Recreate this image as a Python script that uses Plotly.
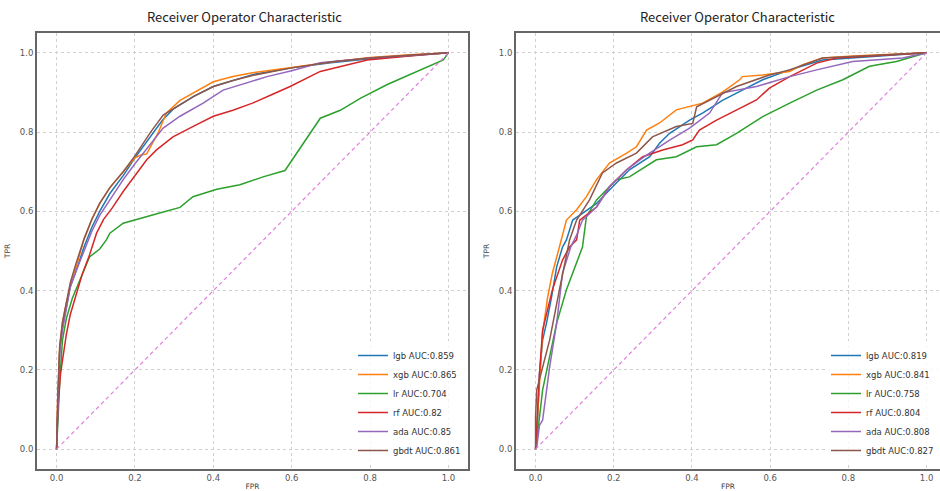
import plotly.graph_objects as go

# ---------------- data: left panel ----------------
L_lgb_fpr = [0, 0.003, 0.008, 0.015, 0.025, 0.035, 0.05, 0.07, 0.09, 0.11, 0.136, 0.17, 0.2, 0.24, 0.27, 0.3, 0.35, 0.4, 0.45, 0.5, 0.6, 0.7, 0.8, 0.9, 1.0]
L_lgb_tpr = [0, 0.12, 0.25, 0.31, 0.36, 0.41, 0.45, 0.51, 0.56, 0.6, 0.645, 0.69, 0.735, 0.79, 0.83, 0.86, 0.89, 0.915, 0.93, 0.945, 0.962, 0.975, 0.985, 0.993, 1.0]

L_xgb_fpr = [0, 0.003, 0.008, 0.015, 0.025, 0.035, 0.05, 0.07, 0.09, 0.11, 0.136, 0.17, 0.2, 0.215, 0.23, 0.26, 0.28, 0.315, 0.35, 0.4, 0.45, 0.5, 0.6, 0.7, 0.8, 0.9, 1.0]
L_xgb_tpr = [0, 0.14, 0.26, 0.32, 0.37, 0.41, 0.46, 0.53, 0.58, 0.62, 0.66, 0.7, 0.735, 0.742, 0.745, 0.8, 0.848, 0.88, 0.9, 0.927, 0.94, 0.95, 0.963, 0.977, 0.988, 0.995, 1.0]

L_lr_fpr = [0, 0.003, 0.008, 0.015, 0.025, 0.04, 0.06, 0.084, 0.11, 0.127, 0.136, 0.17, 0.263, 0.315, 0.348, 0.409, 0.468, 0.527, 0.583, 0.673, 0.724, 0.775, 0.844, 0.903, 0.954, 0.987, 1.0]
L_lr_tpr = [0, 0.08, 0.17, 0.275, 0.33, 0.38, 0.43, 0.485, 0.505, 0.528, 0.545, 0.57, 0.596, 0.61, 0.637, 0.656, 0.667, 0.687, 0.703, 0.835, 0.855, 0.885, 0.92, 0.945, 0.966, 0.982, 1.0]

L_rf_fpr = [0, 0.003, 0.01, 0.025, 0.035, 0.05, 0.065, 0.084, 0.102, 0.12, 0.143, 0.17, 0.2, 0.23, 0.255, 0.297, 0.35, 0.4, 0.45, 0.5, 0.55, 0.596, 0.673, 0.72, 0.793, 0.9, 1.0]
L_rf_tpr = [0, 0.1, 0.19, 0.29, 0.34, 0.39, 0.44, 0.49, 0.545, 0.58, 0.61, 0.65, 0.69, 0.73, 0.755, 0.788, 0.815, 0.84, 0.855, 0.873, 0.895, 0.915, 0.953, 0.965, 0.982, 0.992, 1.0]

L_ada_fpr = [0, 0.003, 0.008, 0.015, 0.025, 0.035, 0.05, 0.07, 0.09, 0.11, 0.136, 0.17, 0.2, 0.24, 0.272, 0.315, 0.374, 0.425, 0.5, 0.537, 0.6, 0.673, 0.8, 0.9, 1.0]
L_ada_tpr = [0, 0.12, 0.25, 0.3, 0.36, 0.41, 0.45, 0.5, 0.55, 0.59, 0.63, 0.68, 0.72, 0.77, 0.81, 0.84, 0.873, 0.906, 0.93, 0.94, 0.955, 0.975, 0.987, 0.994, 1.0]

L_gbdt_fpr = [0, 0.003, 0.008, 0.015, 0.025, 0.035, 0.05, 0.07, 0.09, 0.11, 0.136, 0.17, 0.2, 0.24, 0.272, 0.3, 0.35, 0.4, 0.45, 0.5, 0.6, 0.7, 0.8, 0.9, 1.0]
L_gbdt_tpr = [0, 0.13, 0.26, 0.32, 0.37, 0.42, 0.47, 0.53, 0.58, 0.62, 0.66, 0.7, 0.74, 0.8, 0.843, 0.86, 0.89, 0.915, 0.93, 0.943, 0.962, 0.977, 0.987, 0.994, 1.0]

# ---------------- data: right panel ----------------
R_lgb_fpr = [0, 0.003, 0.01, 0.018, 0.028, 0.041, 0.054, 0.069, 0.079, 0.095, 0.12, 0.156, 0.197, 0.24, 0.292, 0.317, 0.343, 0.394, 0.427, 0.478, 0.529, 0.581, 0.65, 0.734, 0.854, 1.0]
R_lgb_tpr = [0, 0.02, 0.19, 0.275, 0.318, 0.384, 0.46, 0.51, 0.528, 0.578, 0.595, 0.62, 0.662, 0.705, 0.738, 0.772, 0.797, 0.83, 0.848, 0.88, 0.906, 0.932, 0.957, 0.982, 0.99, 1.0]

R_xgb_fpr = [0, 0.003, 0.01, 0.018, 0.031, 0.043, 0.061, 0.079, 0.105, 0.13, 0.156, 0.189, 0.233, 0.258, 0.284, 0.317, 0.36, 0.394, 0.427, 0.478, 0.522, 0.529, 0.581, 0.65, 0.683, 0.734, 0.811, 1.0]
R_xgb_tpr = [0, 0.05, 0.19, 0.293, 0.384, 0.444, 0.51, 0.578, 0.604, 0.637, 0.68, 0.722, 0.747, 0.763, 0.805, 0.823, 0.856, 0.864, 0.873, 0.901, 0.932, 0.94, 0.944, 0.953, 0.97, 0.987, 0.992, 1.0]

R_lr_fpr = [0, 0.003, 0.018, 0.036, 0.054, 0.079, 0.095, 0.12, 0.13, 0.156, 0.207, 0.24, 0.309, 0.36, 0.412, 0.463, 0.514, 0.581, 0.65, 0.719, 0.786, 0.854, 0.923, 1.0]
R_lr_tpr = [0, 0.02, 0.149, 0.232, 0.318, 0.402, 0.444, 0.51, 0.586, 0.629, 0.68, 0.687, 0.73, 0.738, 0.763, 0.768, 0.797, 0.839, 0.873, 0.906, 0.932, 0.966, 0.978, 1.0]

R_rf_fpr = [0, 0.003, 0.01, 0.018, 0.043, 0.069, 0.087, 0.105, 0.113, 0.156, 0.189, 0.233, 0.274, 0.325, 0.376, 0.402, 0.419, 0.463, 0.514, 0.565, 0.598, 0.65, 0.719, 0.77, 1.0]
R_rf_tpr = [0, 0.06, 0.19, 0.3, 0.402, 0.477, 0.51, 0.528, 0.578, 0.611, 0.662, 0.705, 0.738, 0.755, 0.768, 0.78, 0.805, 0.83, 0.856, 0.881, 0.911, 0.94, 0.974, 0.987, 1.0]

R_ada_fpr = [0, 0.003, 0.01, 0.018, 0.036, 0.054, 0.069, 0.09, 0.105, 0.12, 0.156, 0.189, 0.233, 0.281, 0.343, 0.394, 0.445, 0.478, 0.565, 0.65, 0.719, 0.811, 0.939, 1.0]
R_ada_tpr = [0, 0.005, 0.06, 0.073, 0.207, 0.318, 0.444, 0.51, 0.54, 0.578, 0.611, 0.662, 0.705, 0.74, 0.78, 0.81, 0.848, 0.899, 0.915, 0.94, 0.957, 0.978, 0.987, 1.0]

R_gbdt_fpr = [0, 0.0, 0.003, 0.018, 0.036, 0.061, 0.087, 0.105, 0.138, 0.171, 0.207, 0.258, 0.299, 0.36, 0.402, 0.412, 0.463, 0.514, 0.598, 0.65, 0.734, 1.0]
R_gbdt_tpr = [0, 0.08, 0.149, 0.207, 0.275, 0.402, 0.528, 0.578, 0.629, 0.697, 0.722, 0.747, 0.788, 0.814, 0.822, 0.864, 0.889, 0.915, 0.944, 0.957, 0.987, 1.0]

diag = [0, 1]

models = ["lgb", "xgb", "lr", "rf", "ada", "gbdt"]
left_auc = ["0.859", "0.865", "0.704", "0.82", "0.85", "0.861"]
right_auc = ["0.819", "0.841", "0.758", "0.804", "0.808", "0.827"]
tick_vals = [0.0, 0.2, 0.4, 0.6, 0.8, 1.0]
tick_text = ["0.0", "0.2", "0.4", "0.6", "0.8", "1.0"]
title_text = "Receiver Operator Characteristic"

colors = ["#1f77b4", "#ff7f0e", "#2ca02c", "#d62728", "#9467bd", "#8c564b"]

left_curves = [(L_lgb_fpr, L_lgb_tpr), (L_xgb_fpr, L_xgb_tpr), (L_lr_fpr, L_lr_tpr),
               (L_rf_fpr, L_rf_tpr), (L_ada_fpr, L_ada_tpr), (L_gbdt_fpr, L_gbdt_tpr)]
right_curves = [(R_lgb_fpr, R_lgb_tpr), (R_xgb_fpr, R_xgb_tpr), (R_lr_fpr, R_lr_tpr),
                (R_rf_fpr, R_rf_tpr), (R_ada_fpr, R_ada_tpr), (R_gbdt_fpr, R_gbdt_tpr)]

W, H = 940, 491
TFONT = "Noto Sans CJK SC"
FONT = "DejaVu Sans"

fig = go.Figure()

for i, (fx, ty) in enumerate(left_curves):
    fig.add_trace(go.Scatter(x=fx, y=ty, mode="lines", name=f"{models[i]} AUC:{left_auc[i]}",
                             line=dict(color=colors[i], width=1.5), xaxis="x", yaxis="y",
                             legend="legend"))
fig.add_trace(go.Scatter(x=diag, y=diag, mode="lines", showlegend=False,
                         line=dict(color="#e080e0", width=1.2, dash="4px,3px"), xaxis="x", yaxis="y"))

for i, (fx, ty) in enumerate(right_curves):
    fig.add_trace(go.Scatter(x=fx, y=ty, mode="lines", name=f"{models[i]} AUC:{right_auc[i]}",
                             line=dict(color=colors[i], width=1.5), xaxis="x2", yaxis="y2",
                             legend="legend2"))
fig.add_trace(go.Scatter(x=diag, y=diag, mode="lines", showlegend=False,
                         line=dict(color="#e080e0", width=1.2, dash="4px,3px"), xaxis="x2", yaxis="y2"))

m_t, m_b = 33, 22
ph = H - m_t - m_b

def xax(domain, rng, mirror):
    return dict(domain=domain, range=rng, tickvals=tick_vals, ticktext=tick_text,
                showgrid=True, gridcolor="#d0d0d0", griddash="3px,3px", gridwidth=1,
                zeroline=False, showline=True, linecolor="#666666", linewidth=2, mirror=mirror,
                ticks="", automargin=False, tickfont=dict(size=8.5, color="#555555", family=FONT),
                title=dict(text="FPR", font=dict(size=7.5, color="#444444", family=FONT), standoff=6))

def yax(anchor, mirror):
    return dict(domain=[0, 1], range=[-0.05, 1.05], tickvals=tick_vals, ticktext=tick_text,
                showgrid=True, gridcolor="#d0d0d0", griddash="3px,3px", gridwidth=1,
                zeroline=False, showline=True, linecolor="#666666", linewidth=2, mirror=mirror,
                ticks="", automargin=False, tickfont=dict(size=8.5, color="#555555", family=FONT),
                anchor=anchor,
                title=dict(text="TPR", font=dict(size=7.5, color="#444444", family=FONT), standoff=8))

x2_right = -0.05 + (940 - 516) / 391.0

fig.update_layout(
    template="none",
    width=W, height=H,
    margin=dict(l=0, r=0, t=m_t, b=m_b, autoexpand=False),
    paper_bgcolor="white", plot_bgcolor="white",
    font=dict(family=FONT, color="#333333"),
    xaxis=dict(**xax([37 / W, 468 / W], [-0.05, 1.05], True), anchor="y"),
    yaxis=yax("x", True),
    xaxis2=dict(**xax([516 / W, 1.0], [-0.05, x2_right], True), anchor="y2"),
    yaxis2=yax("x2", False),
    legend=dict(x=466 / W, y=4 / ph, xanchor="right", yanchor="bottom",
                bgcolor="rgba(255,255,255,0.8)", font=dict(size=8.5, color="#333333", family=FONT),
                itemwidth=30, tracegroupgap=0),
    legend2=dict(x=939 / W, y=4 / ph, xanchor="right", yanchor="bottom",
                 bgcolor="rgba(255,255,255,0.8)", font=dict(size=8.5, color="#333333", family=FONT),
                 itemwidth=30, tracegroupgap=0),
    annotations=[
        dict(text=title_text, x=244 / W, y=1 + 17 / ph, xref="paper", yref="paper",
             xanchor="center", yanchor="middle", showarrow=False,
             font=dict(size=13, color="#222222", family=TFONT)),
        dict(text=title_text, x=737 / W, y=1 + 17 / ph, xref="paper", yref="paper",
             xanchor="center", yanchor="middle", showarrow=False,
             font=dict(size=13, color="#222222", family=TFONT)),
    ],
)

fig.write_html("out.html", config={"displayModeBar": False},
               post_script="document.body.style.margin='0';document.body.style.overflow='hidden';")
